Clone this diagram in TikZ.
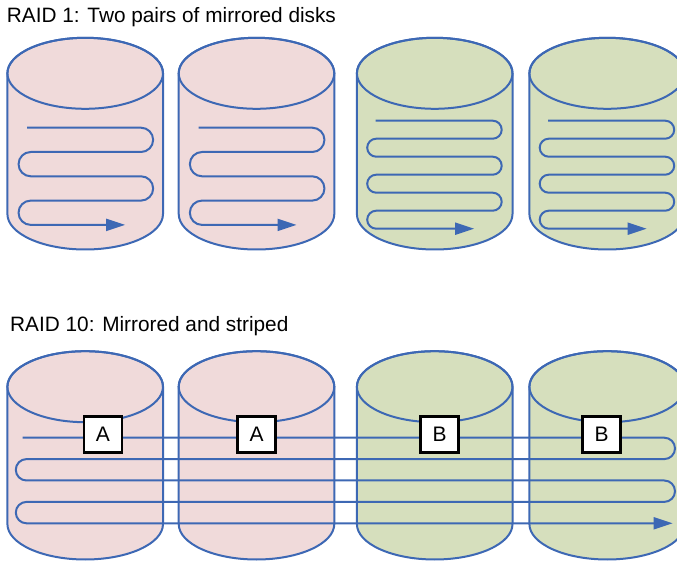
\documentclass[tikz,border=0pt]{standalone}
\usepackage{fontspec}
\setmainfont{Liberation Sans}
\usetikzlibrary{arrows.meta}
\definecolor{diskpink}{RGB}{240,218,218}
\definecolor{diskgreen}{RGB}{214,223,189}
\definecolor{trackblue}{RGB}{61,104,180}

\begin{document}
\begin{tikzpicture}[x=1pt,y=1pt,
    disk/.style={draw=trackblue,line width=2pt},
    track/.style={draw=trackblue,line width=2pt},
    trackend/.style={-{Triangle[length=19pt,width=12pt]}},
    blocklabel/.style={draw=black,line width=2.5pt,fill=white,minimum width=38pt,
      minimum height=36pt,inner sep=0pt,font=\fontsize{21}{21}\selectfont},
    caption/.style={anchor=base west,inner sep=0pt,font=\fontsize{20.8}{24}\selectfont}]
  \useasboundingbox (0,0) rectangle (677,562);
  \clip (0,0) rectangle (677,562);
  % disks, two rows
  \foreach \cy/\ht in {488.7/140.7,175.3/137.3}
    \foreach \x/\col in {85.2/diskpink,256.5/diskpink,434.7/diskgreen,607.2/diskgreen} {
      \filldraw[disk,fill=\col] (\x-77.8,\cy) -- (\x-77.8,\cy-\ht)
        arc[start angle=180,end angle=360,x radius=77.8,y radius=35.5]
        -- (\x+77.8,\cy) arc[start angle=0,end angle=180,x radius=77.8,y radius=35.5] -- cycle;
      \draw[disk] (\x,\cy) ellipse[x radius=77.8,y radius=35.5];
    }
  % RAID 1 tracks
  \foreach \x in {85.2,256.5}
    \draw[track,trackend] (\x-58,434.3)
      \foreach \k in {0,2} {
        -- (\x+55.8,434.3-24.3*\k) arc[start angle=90,end angle=-90,radius=12.15]
        -- (\x-54.5,410-24.3*\k) arc[start angle=90,end angle=270,radius=12.15] }
      -- (\x+40,337.1);
  \foreach \x in {434.7,607.2}
    \draw[track,trackend] (\x-59,441.3)
      \foreach \k in {0,2,4} {
        -- (\x+58,441.3-18*\k) arc[start angle=90,end angle=-90,radius=9]
        -- (\x-58.5,423.3-18*\k) arc[start angle=90,end angle=270,radius=9] }
      -- (\x+39.5,333.3);
  % RAID 10 track
  \draw[track,trackend] (22.7,124.3)
    \foreach \k in {0,2} {
      -- (664.3,124.3-21.4*\k) arc[start angle=90,end angle=-90,radius=10.7]
      -- (26.5,102.9-21.4*\k) arc[start angle=90,end angle=270,radius=10.7] }
    -- (672.7,38.7);
  \node[blocklabel] (blockA1) at (103,127.3) {A};
  \node[blocklabel] (blockA2) at (256.7,127.3) {A};
  \node[blocklabel] (blockB1) at (439.5,127.3) {B};
  \node[blocklabel] (blockB2) at (601.7,127.3) {B};
  \node[caption] (raidone) at (6.7,539.3) {RAID 1: Two pairs of mirrored disks};
  \node[caption] (raidten) at (10,230.3) {RAID 10: Mirrored and striped};
\end{tikzpicture}
\end{document}
